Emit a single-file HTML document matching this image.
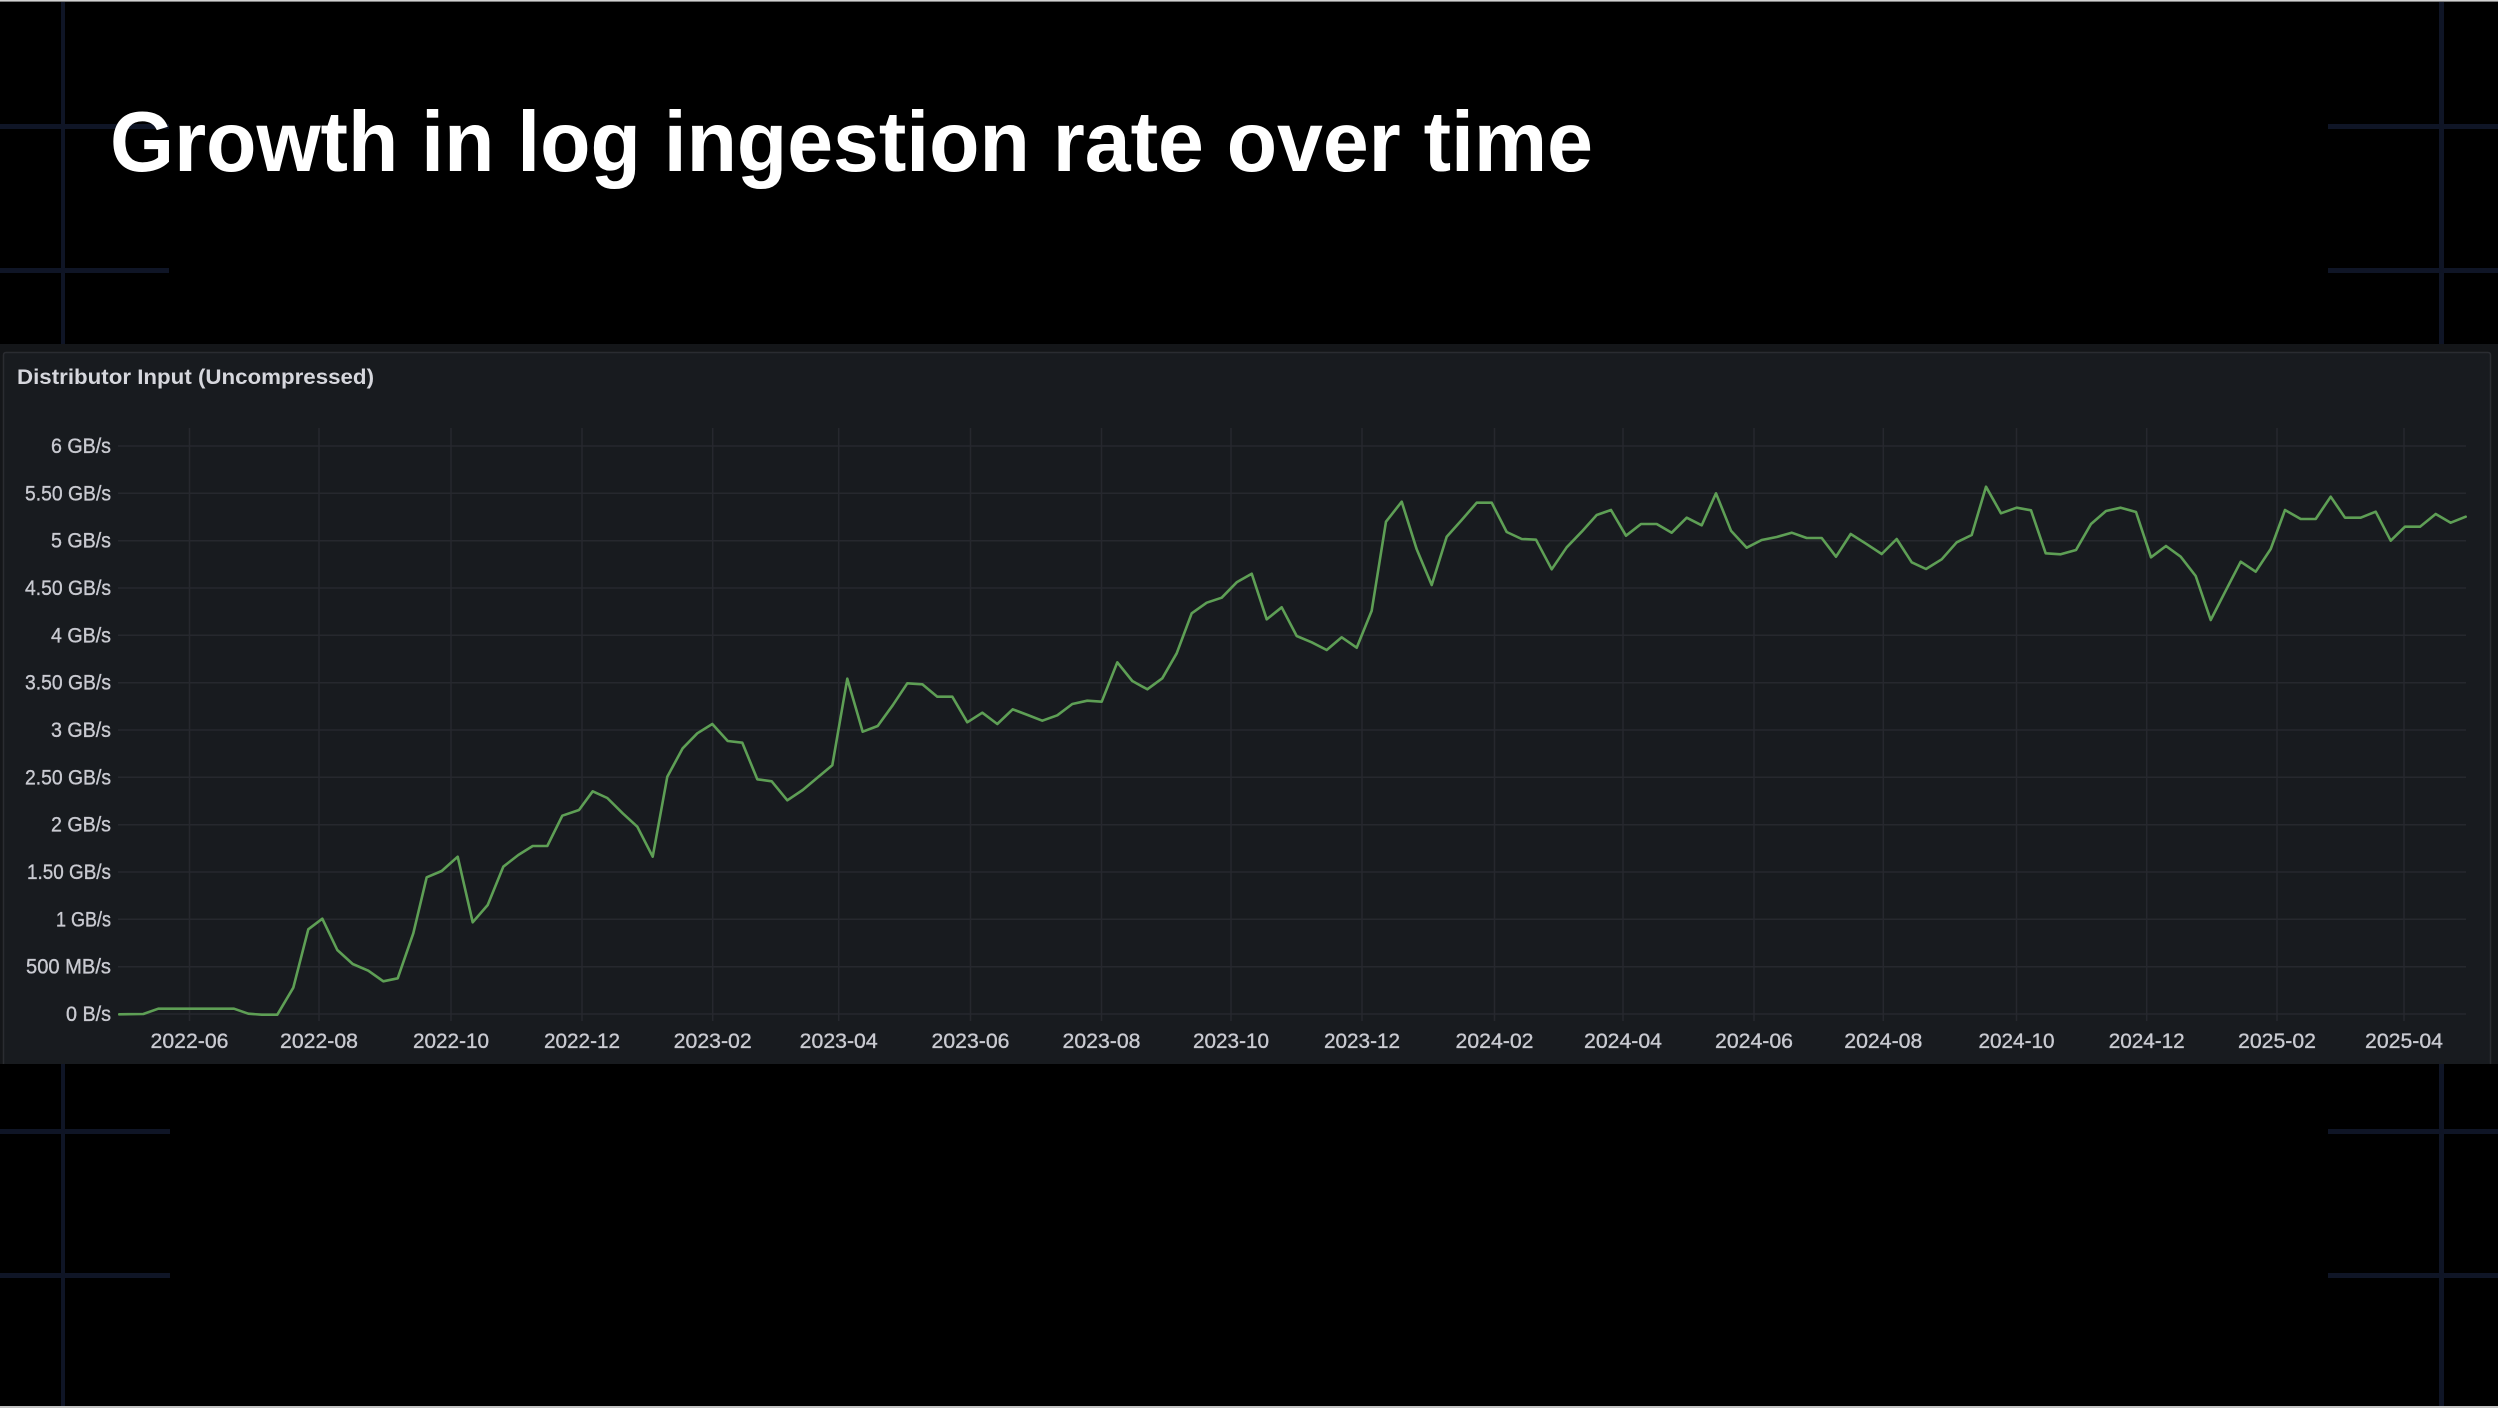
<!DOCTYPE html>
<html>
<head>
<meta charset="utf-8">
<style>
  html, body { margin: 0; padding: 0; background: #000; }
  body { width: 2498px; height: 1408px; overflow: hidden; }
  svg { display: block; }
  .yl { font-family: "Liberation Sans", sans-serif; font-size: 21px; fill: #c9cad1; text-anchor: end; stroke: #c9cad1; stroke-width: 0.35px; }
  .xl { font-family: "Liberation Sans", sans-serif; font-size: 21px; fill: #c9cad1; text-anchor: middle; stroke: #c9cad1; stroke-width: 0.35px; }
</style>
</head>
<body>
<svg width="2498" height="1408" viewBox="0 0 2498 1408" xmlns="http://www.w3.org/2000/svg">
  <rect x="0" y="0" width="2498" height="1408" fill="#000"/>
  <!-- top/bottom light borders -->
  <rect x="0" y="0" width="2498" height="1.6" fill="#d2d2d2"/>
  <rect x="0" y="1406" width="2498" height="2" fill="#c4c4c4"/>

  <!-- decorative lines -->
  <g fill="#0f1526">
    <rect x="61" y="2" width="4" height="342"/>
    <rect x="61" y="1064" width="4" height="342"/>
    <rect x="0" y="124" width="169" height="5"/>
    <rect x="0" y="268" width="169" height="5"/>
    <rect x="0" y="1129" width="170" height="5"/>
    <rect x="0" y="1273" width="170" height="5"/>
    <rect x="2439" y="2" width="5" height="342"/>
    <rect x="2439" y="1064" width="5" height="342"/>
    <rect x="2328" y="124" width="170" height="5"/>
    <rect x="2328" y="268" width="170" height="5"/>
    <rect x="2328" y="1129" width="170" height="5"/>
    <rect x="2328" y="1273" width="170" height="5"/>
  </g>

  <!-- Title -->
  <text x="110" y="171" font-family="Liberation Sans, sans-serif" font-weight="bold" font-size="85" fill="#ffffff" textLength="1483" lengthAdjust="spacingAndGlyphs">Growth in log ingestion rate over time</text>

  <!-- Grafana area -->
  <rect x="0" y="344" width="2498" height="720" fill="#141619"/>
  <rect x="3" y="352" width="2488" height="712" rx="3" fill="#181b1f"/>
  <path d="M3.5 1064 L3.5 355 Q3.5 352.5 6 352.5 L2488 352.5 Q2490.5 352.5 2490.5 355 L2490.5 1064" fill="none" stroke="#2a2c31" stroke-width="1.5"/>

  <text x="17" y="384" font-family="Liberation Sans, sans-serif" font-weight="bold" font-size="21" fill="#d6d7dd" textLength="357" lengthAdjust="spacingAndGlyphs">Distributor Input (Uncompressed)</text>

  <!-- grid -->
  <g stroke="#26282e" stroke-width="1.5" fill="none">
    <line x1="118" y1="446" x2="2466" y2="446"/>
    <line x1="118" y1="493.3" x2="2466" y2="493.3"/>
    <line x1="118" y1="540.7" x2="2466" y2="540.7"/>
    <line x1="118" y1="588" x2="2466" y2="588"/>
    <line x1="118" y1="635.3" x2="2466" y2="635.3"/>
    <line x1="118" y1="682.7" x2="2466" y2="682.7"/>
    <line x1="118" y1="730" x2="2466" y2="730"/>
    <line x1="118" y1="777.3" x2="2466" y2="777.3"/>
    <line x1="118" y1="824.7" x2="2466" y2="824.7"/>
    <line x1="118" y1="872" x2="2466" y2="872"/>
    <line x1="118" y1="919.3" x2="2466" y2="919.3"/>
    <line x1="118" y1="966.7" x2="2466" y2="966.7"/>
    <line x1="118" y1="1014" x2="2466" y2="1014"/>

    <line x1="189.5" y1="428" x2="189.5" y2="1021"/>
    <line x1="319" y1="428" x2="319" y2="1021"/>
    <line x1="451" y1="428" x2="451" y2="1021"/>
    <line x1="582" y1="428" x2="582" y2="1021"/>
    <line x1="712.7" y1="428" x2="712.7" y2="1021"/>
    <line x1="838.7" y1="428" x2="838.7" y2="1021"/>
    <line x1="970.5" y1="428" x2="970.5" y2="1021"/>
    <line x1="1101.5" y1="428" x2="1101.5" y2="1021"/>
    <line x1="1231" y1="428" x2="1231" y2="1021"/>
    <line x1="1362" y1="428" x2="1362" y2="1021"/>
    <line x1="1494.5" y1="428" x2="1494.5" y2="1021"/>
    <line x1="1623" y1="428" x2="1623" y2="1021"/>
    <line x1="1754" y1="428" x2="1754" y2="1021"/>
    <line x1="1883.3" y1="428" x2="1883.3" y2="1021"/>
    <line x1="2016.5" y1="428" x2="2016.5" y2="1021"/>
    <line x1="2146.7" y1="428" x2="2146.7" y2="1021"/>
    <line x1="2277" y1="428" x2="2277" y2="1021"/>
    <line x1="2404" y1="428" x2="2404" y2="1021"/>
  </g>

  <!-- y labels -->
  <text class="yl" x="111" y="453" textLength="60" lengthAdjust="spacingAndGlyphs">6 GB/s</text>
  <text class="yl" x="111" y="500.3" textLength="86" lengthAdjust="spacingAndGlyphs">5.50 GB/s</text>
  <text class="yl" x="111" y="547.7" textLength="60" lengthAdjust="spacingAndGlyphs">5 GB/s</text>
  <text class="yl" x="111" y="595" textLength="86" lengthAdjust="spacingAndGlyphs">4.50 GB/s</text>
  <text class="yl" x="111" y="642.3" textLength="60" lengthAdjust="spacingAndGlyphs">4 GB/s</text>
  <text class="yl" x="111" y="689.7" textLength="86" lengthAdjust="spacingAndGlyphs">3.50 GB/s</text>
  <text class="yl" x="111" y="737" textLength="60" lengthAdjust="spacingAndGlyphs">3 GB/s</text>
  <text class="yl" x="111" y="784.3" textLength="86" lengthAdjust="spacingAndGlyphs">2.50 GB/s</text>
  <text class="yl" x="111" y="831.7" textLength="60" lengthAdjust="spacingAndGlyphs">2 GB/s</text>
  <text class="yl" x="111" y="879" textLength="84" lengthAdjust="spacingAndGlyphs">1.50 GB/s</text>
  <text class="yl" x="111" y="926.3" textLength="55" lengthAdjust="spacingAndGlyphs">1 GB/s</text>
  <text class="yl" x="111" y="973.7" textLength="85" lengthAdjust="spacingAndGlyphs">500 MB/s</text>
  <text class="yl" x="111" y="1021" textLength="45" lengthAdjust="spacingAndGlyphs">0 B/s</text>

  <!-- x labels -->
  <g>
    <text class="xl" x="189.5" y="1048" textLength="78" lengthAdjust="spacingAndGlyphs">2022-06</text>
    <text class="xl" x="319" y="1048" textLength="78" lengthAdjust="spacingAndGlyphs">2022-08</text>
    <text class="xl" x="451" y="1048" textLength="76" lengthAdjust="spacingAndGlyphs">2022-10</text>
    <text class="xl" x="582" y="1048" textLength="76" lengthAdjust="spacingAndGlyphs">2022-12</text>
    <text class="xl" x="712.7" y="1048" textLength="78" lengthAdjust="spacingAndGlyphs">2023-02</text>
    <text class="xl" x="838.7" y="1048" textLength="78" lengthAdjust="spacingAndGlyphs">2023-04</text>
    <text class="xl" x="970.5" y="1048" textLength="78" lengthAdjust="spacingAndGlyphs">2023-06</text>
    <text class="xl" x="1101.5" y="1048" textLength="78" lengthAdjust="spacingAndGlyphs">2023-08</text>
    <text class="xl" x="1231" y="1048" textLength="76" lengthAdjust="spacingAndGlyphs">2023-10</text>
    <text class="xl" x="1362" y="1048" textLength="76" lengthAdjust="spacingAndGlyphs">2023-12</text>
    <text class="xl" x="1494.5" y="1048" textLength="78" lengthAdjust="spacingAndGlyphs">2024-02</text>
    <text class="xl" x="1623" y="1048" textLength="78" lengthAdjust="spacingAndGlyphs">2024-04</text>
    <text class="xl" x="1754" y="1048" textLength="78" lengthAdjust="spacingAndGlyphs">2024-06</text>
    <text class="xl" x="1883.3" y="1048" textLength="78" lengthAdjust="spacingAndGlyphs">2024-08</text>
    <text class="xl" x="2016.5" y="1048" textLength="76" lengthAdjust="spacingAndGlyphs">2024-10</text>
    <text class="xl" x="2146.7" y="1048" textLength="76" lengthAdjust="spacingAndGlyphs">2024-12</text>
    <text class="xl" x="2277" y="1048" textLength="78" lengthAdjust="spacingAndGlyphs">2025-02</text>
    <text class="xl" x="2404" y="1048" textLength="78" lengthAdjust="spacingAndGlyphs">2025-04</text>
  </g>

  <!-- series -->
  <polyline fill="none" stroke="#5e9f55" stroke-width="2.6" stroke-linejoin="round" stroke-linecap="round" points="
119.3,1014.3 143.3,1014 158.3,1008.7 234,1008.7 248.3,1013.7 261.7,1014.7 277.3,1014.7 293.3,987.7 308.3,929.3 322.3,918.7
337.3,950 352.7,964 368.3,970.7 383.3,981.3 397.7,978.3 413.3,933.3 426.7,877.3 441.7,871 457.7,856.7 472.7,922.3
487.7,905 503.3,866.7 518.3,855 532.7,846 547.3,846 562.3,815.7 579,810 592.7,791.3 607.3,798 622.7,813.3
637.3,826.7 652.7,856.7 667.3,776.7 682.7,748.3 697.3,733.3 712.3,724 727.7,741 742.3,742.7 757.3,779.3 771.7,781.3
787.3,800.3 802.7,790 817.3,777.7 832.3,765.3 847.3,678.7 862.7,731.7 877.7,726 892.7,705.3 907.3,683.3 922.3,684.3
937.3,696.7 952.3,696.7 967.3,722.3 982.3,712.7 997.3,724 1012.7,709.3 1027.7,715 1042.3,720.7 1057.3,715.3 1072.3,704
1087.3,700.7 1101.7,701.7 1117.3,662.3 1132.3,681 1147.3,689.3 1162.3,678.3 1176.7,653.3 1191.7,613.3 1206.7,602.7 1221.7,597.7
1236.7,582.3 1251.7,573.7 1266.7,619.3 1281.7,607.3 1296.7,636 1311.7,642.3 1326.7,650 1341.7,637.3 1356.7,647.7 1371.7,610.7
1386,521.7 1401.7,501.7 1416.7,549.3 1431.7,585 1446.7,536.7 1461.7,520 1476.7,502.7 1491.7,502.7 1506.7,532 1521.7,539
1536,539.7 1551.7,569.3 1566.7,547.3 1581.7,531.7 1596.7,515 1611,510 1626,535.7 1641,524 1656.7,524 1671.7,532.7
1686.7,517.7 1701.7,525.3 1716,493.3 1731,530.7 1746.7,547.7 1761.7,540 1776.7,537 1791.7,532.7 1806.7,538 1821.7,538
1836,556.7 1850.7,534 1866,543.7 1881.7,554 1896.7,539 1911.7,562.3 1926,569 1941.7,559.3 1956.7,542.3 1971.7,535
1986,486.7 2001,513.3 2016.7,507.7 2031,510.3 2045.7,553.3 2060.7,554.3 2076,550 2091,524 2106,511 2120.7,507.7
2136,512 2151,557.3 2166,546 2180.7,556.7 2195.7,576 2210.7,620 2225.7,590.7 2240.7,561.7 2255.7,571.7 2270.7,549
2285,510 2300.7,519 2315.7,519 2330.7,496.7 2345,517.7 2360.7,517.7 2375.7,511.7 2390.7,540.7 2405,526.7 2420,526.7
2435.7,514 2450.7,522.7 2465.7,516.7"/>
</svg>
</body>
</html>
